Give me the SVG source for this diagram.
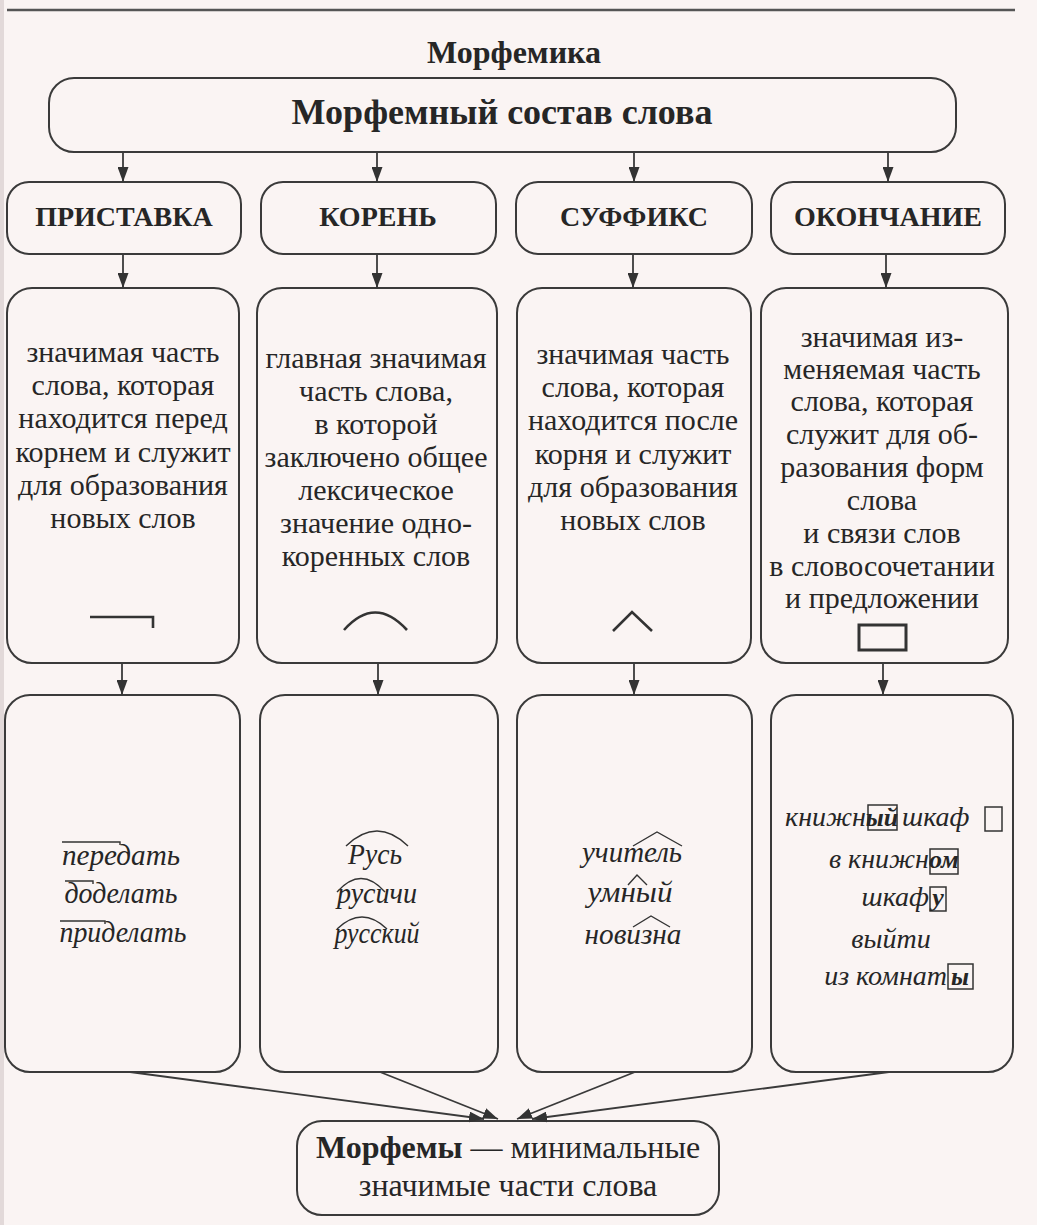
<svg xmlns="http://www.w3.org/2000/svg" width="1037" height="1225" viewBox="0 0 1037 1225">
<defs>
<marker id="ah" markerUnits="userSpaceOnUse" markerWidth="15" markerHeight="11" refX="15" refY="5.5" orient="auto">
<path d="M0,0 L15,5.5 L0,11 z" fill="#333"/>
</marker>
<style>
.bg{fill:#faf4f3}
.box{fill:none;stroke:#3a3a3a;stroke-width:2}
.t{font-family:"Liberation Serif","Times New Roman",serif;fill:#262626;text-anchor:middle}
.title{font-size:32px;font-weight:bold}
.main{font-size:36px;font-weight:bold}
.hdr{font-size:28px;font-weight:bold}
.body{font-size:30px}
.ex{font-size:30px;font-style:italic}
.ex4{font-size:28px;font-style:italic}
.exs{font-size:28px;font-style:italic;text-anchor:start}
.exe{font-size:28px;font-style:italic;text-anchor:end}
.exb{font-size:26px;font-style:italic;font-weight:bold}
.bot{font-size:32px}
.mark{fill:none;stroke:#333;stroke-width:2.6}
.thin{fill:none;stroke:#333;stroke-width:1.4}
.eb{fill:none;stroke:#333;stroke-width:1.5}
.conn{stroke:#3a3a3a;stroke-width:1.8;fill:none;marker-end:url(#ah)}
</style>
</defs>
<rect class="bg" x="0" y="0" width="1037" height="1225"/>
<rect x="0" y="0" width="4" height="1225" fill="#e2d9d9"/>
<line x1="7" y1="10" x2="1015" y2="10" stroke="#555" stroke-width="2.5"/>

<g id="title"><text class="t title" x="514" y="63">Морфемика</text></g>

<g id="root">
<rect class="box" x="49" y="78" width="907" height="74" rx="25"/>
<text class="t main" x="502" y="124">Морфемный состав слова</text>
</g>

<g id="h-prefix"><rect class="box" x="7" y="182" width="234" height="72" rx="22"/><text class="t hdr" x="124" y="226">ПРИСТАВКА</text></g>
<g id="h-root"><rect class="box" x="261" y="182" width="235" height="72" rx="22"/><text class="t hdr" x="378" y="226">КОРЕНЬ</text></g>
<g id="h-suffix"><rect class="box" x="516" y="182" width="236" height="72" rx="22"/><text class="t hdr" x="634" y="226">СУФФИКС</text></g>
<g id="h-ending"><rect class="box" x="771" y="182" width="234" height="72" rx="22"/><text class="t hdr" x="888" y="226">ОКОНЧАНИЕ</text></g>

<g id="d-prefix">
<rect class="box" x="7" y="288" width="232" height="375" rx="25"/>
<text class="t body" x="123"><tspan x="123" y="362">значимая часть</tspan><tspan x="123" y="395">слова, которая</tspan><tspan x="123" y="428">находится перед</tspan><tspan x="123" y="462">корнем и служит</tspan><tspan x="123" y="495">для образования</tspan><tspan x="123" y="528">новых слов</tspan></text>
<path class="mark" d="M90,617 H153 V628"/>
</g>
<g id="d-root">
<rect class="box" x="257" y="288" width="240" height="375" rx="25"/>
<text class="t body" x="376"><tspan x="376" y="368">главная значимая</tspan><tspan x="376" y="401">часть слова,</tspan><tspan x="376" y="434">в которой</tspan><tspan x="376" y="467">заключено общее</tspan><tspan x="376" y="500">лексическое</tspan><tspan x="376" y="533">значение одно-</tspan><tspan x="376" y="566">коренных слов</tspan></text>
<path class="mark" d="M344,630 Q375,595 407,630"/>
</g>
<g id="d-suffix">
<rect class="box" x="517" y="288" width="234" height="375" rx="25"/>
<text class="t body" x="633"><tspan x="633" y="364">значимая часть</tspan><tspan x="633" y="397">слова, которая</tspan><tspan x="633" y="430">находится после</tspan><tspan x="633" y="464">корня и служит</tspan><tspan x="633" y="497">для образования</tspan><tspan x="633" y="530">новых слов</tspan></text>
<path class="mark" d="M613,631 L632,612 L652,631"/>
</g>
<g id="d-ending">
<rect class="box" x="761" y="288" width="247" height="375" rx="25"/>
<text class="t body" x="882"><tspan x="882" y="347">значимая из-</tspan><tspan x="882" y="379">меняемая часть</tspan><tspan x="882" y="411">слова, которая</tspan><tspan x="882" y="444">служит для об-</tspan><tspan x="882" y="477">разования форм</tspan><tspan x="882" y="510">слова</tspan><tspan x="882" y="543">и связи слов</tspan><tspan x="882" y="576">в словосочетании</tspan><tspan x="882" y="608">и предложении</tspan></text>
<rect x="859" y="625" width="47" height="25" fill="none" stroke="#333" stroke-width="3"/>
</g>

<g id="e-prefix">
<rect class="box" x="5" y="695" width="235" height="377" rx="25"/>
<text class="t ex" x="121" y="865" textLength="118" lengthAdjust="spacingAndGlyphs">передать</text>
<path class="thin" d="M62,842 H120 V845"/>
<text class="t ex" x="121" y="903" textLength="113" lengthAdjust="spacingAndGlyphs">доделать</text>
<path class="thin" d="M65,881 H93 V884"/>
<text class="t ex" x="123" y="942" textLength="127" lengthAdjust="spacingAndGlyphs">приделать</text>
<path class="thin" d="M60,921 H105 V924"/>
</g>
<g id="e-root">
<rect class="box" x="260" y="695" width="238" height="377" rx="25"/>
<text class="t ex" x="375" y="864" textLength="54" lengthAdjust="spacingAndGlyphs">Русь</text>
<path class="thin" d="M346,846 Q377,816 408,846"/>
<text class="t ex" x="377" y="903" textLength="80" lengthAdjust="spacingAndGlyphs">русичи</text>
<path class="thin" d="M337,892 Q361,865 385,892"/>
<text class="t ex" x="377" y="943" textLength="85" lengthAdjust="spacingAndGlyphs">русский</text>
<path class="thin" d="M337,929 Q362,905 387,929"/>
</g>
<g id="e-suffix">
<rect class="box" x="517" y="695" width="235" height="377" rx="25"/>
<text class="t ex" x="632" y="862" textLength="100" lengthAdjust="spacingAndGlyphs">учитель</text>
<path class="thin" d="M633,846 L657,832 L682,846"/>
<text class="t ex" x="630" y="902" textLength="85" lengthAdjust="spacingAndGlyphs">умный</text>
<path class="thin" d="M628,885 L637,875 L647,885"/>
<text class="t ex" x="633" y="944" textLength="97" lengthAdjust="spacingAndGlyphs">новизна</text>
<path class="thin" d="M633,927 L651,916 L670,927"/>
</g>
<g id="e-ending">
<rect class="box" x="771" y="695" width="242" height="377" rx="25"/>
<text class="t exe" x="866" y="826">книжн</text>
<rect class="eb" x="868" y="805" width="29" height="25"/>
<text class="t exb" x="882" y="826">ый</text>
<text class="t exs" x="902" y="826">шкаф</text>
<rect class="eb" x="985" y="807" width="17" height="24"/>
<text class="t exe" x="929" y="868">в книжн</text>
<rect class="eb" x="930" y="849" width="28" height="25"/>
<text class="t exb" x="944" y="868">ом</text>
<text class="t exe" x="929" y="906">шкаф</text>
<rect class="eb" x="930" y="887" width="16" height="24"/>
<text class="t exb" x="938" y="906">у</text>
<text class="t ex4" x="891" y="948">выйти</text>
<text class="t exe" x="947" y="985">из комнат</text>
<rect class="eb" x="948" y="964" width="25" height="25"/>
<text class="t exb" x="960" y="985">ы</text>
</g>

<g id="morphemes">
<rect class="box" x="297" y="1121" width="422" height="94" rx="25"/>
<text class="t bot" x="508" y="1158"><tspan font-weight="bold">Морфемы</tspan> — минимальные</text>
<text class="t bot" x="508" y="1196">значимые части слова</text>
</g>

<g id="connectors">
<line class="conn" x1="123" y1="152" x2="123" y2="182"/>
<line class="conn" x1="377" y1="152" x2="377" y2="182"/>
<line class="conn" x1="634" y1="152" x2="634" y2="182"/>
<line class="conn" x1="888" y1="152" x2="888" y2="182"/>
<line class="conn" x1="123" y1="254" x2="123" y2="288"/>
<line class="conn" x1="377" y1="254" x2="377" y2="288"/>
<line class="conn" x1="633" y1="254" x2="633" y2="288"/>
<line class="conn" x1="886" y1="254" x2="886" y2="288"/>
<line class="conn" x1="122" y1="663" x2="122" y2="695"/>
<line class="conn" x1="378" y1="663" x2="378" y2="695"/>
<line class="conn" x1="634" y1="663" x2="634" y2="695"/>
<line class="conn" x1="883" y1="663" x2="883" y2="695"/>
<line class="conn" x1="130" y1="1072" x2="484" y2="1119"/>
<line class="conn" x1="380" y1="1072" x2="498" y2="1119"/>
<line class="conn" x1="635" y1="1072" x2="517" y2="1119"/>
<line class="conn" x1="889" y1="1072" x2="532" y2="1119"/>
</g>
</svg>
